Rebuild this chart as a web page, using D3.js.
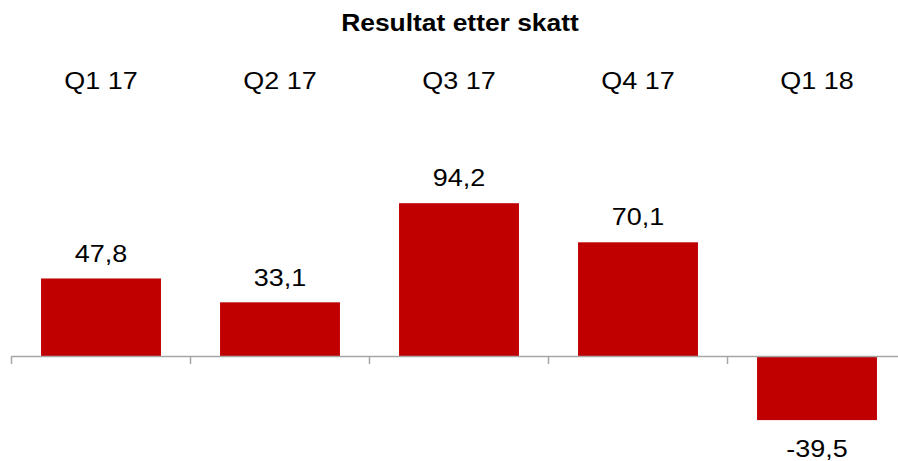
<!DOCTYPE html>
<html><head><meta charset="utf-8">
<script src="https://cdn.jsdelivr.net/npm/d3@7"></script>
<style>body{margin:0;background:#fff}svg{display:block}</style>
</head><body>
<svg id="c" width="898" height="461"></svg>
<script>
const title = "Resultat etter skatt";
const categories = ["Q1 17","Q2 17","Q3 17","Q4 17","Q1 18"];
const values = [47.8, 33.1, 94.2, 70.1, -39.5];
const valueLabels = ["47,8","33,1","94,2","70,1","-39,5"];

const svg = d3.select("#c");
const font = "Liberation Sans, Arial, sans-serif";
const sx = 1.1;

const x = d3.scaleBand().domain(categories).range([11.5, 906.5]).paddingInner(0.33).paddingOuter(0.165);
const y = d3.scaleLinear().domain([-39.5, 94.2]).range([420.1, 203.2]);

// bars
svg.append("g").selectAll("rect").data(values).join("rect")
  .attr("x", (d,i) => x(categories[i]))
  .attr("width", x.bandwidth())
  .attr("y", d => Math.min(y(d), y(0)))
  .attr("height", d => Math.abs(y(d) - y(0)))
  .attr("fill", "#c00000");

// axis
const axis = d3.axisBottom(x).tickSize(8).tickFormat("").tickSizeOuter(0);
const band = x.step();
const g = svg.append("g").attr("transform", `translate(0,${y(0)})`);
g.call(axis);
g.select(".domain").attr("stroke", "#a6a6a6").attr("stroke-width", 1.5);
g.selectAll(".tick line").attr("transform", `translate(${-band/2},0)`).attr("stroke", "#a6a6a6").attr("stroke-width", 1.5);

// category labels
svg.append("g").selectAll("text").data(categories).join("text")
  .attr("transform", d => `translate(${x(d) + x.bandwidth()/2},89.3) scale(${sx},1)`)
  .attr("text-anchor", "middle")
  .attr("font-family", font).attr("font-size", 24.5).attr("fill", "#000")
  .text(d => d);

// value labels
svg.append("g").selectAll("text").data(values).join("text")
  .attr("transform", (d,i) => `translate(${x(categories[i]) + x.bandwidth()/2},${d >= 0 ? y(d) - 16.8 : y(d) + 36.6}) scale(${sx},1)`)
  .attr("text-anchor", "middle")
  .attr("font-family", font).attr("font-size", 24.5).attr("fill", "#000")
  .text((d,i) => valueLabels[i]);

// title
svg.append("text").attr("transform", `translate(460,31) scale(${sx},1)`).attr("text-anchor", "middle")
  .attr("font-family", font).attr("font-size", 24).attr("font-weight", "bold")
  .text(title);
</script>
</body></html>
